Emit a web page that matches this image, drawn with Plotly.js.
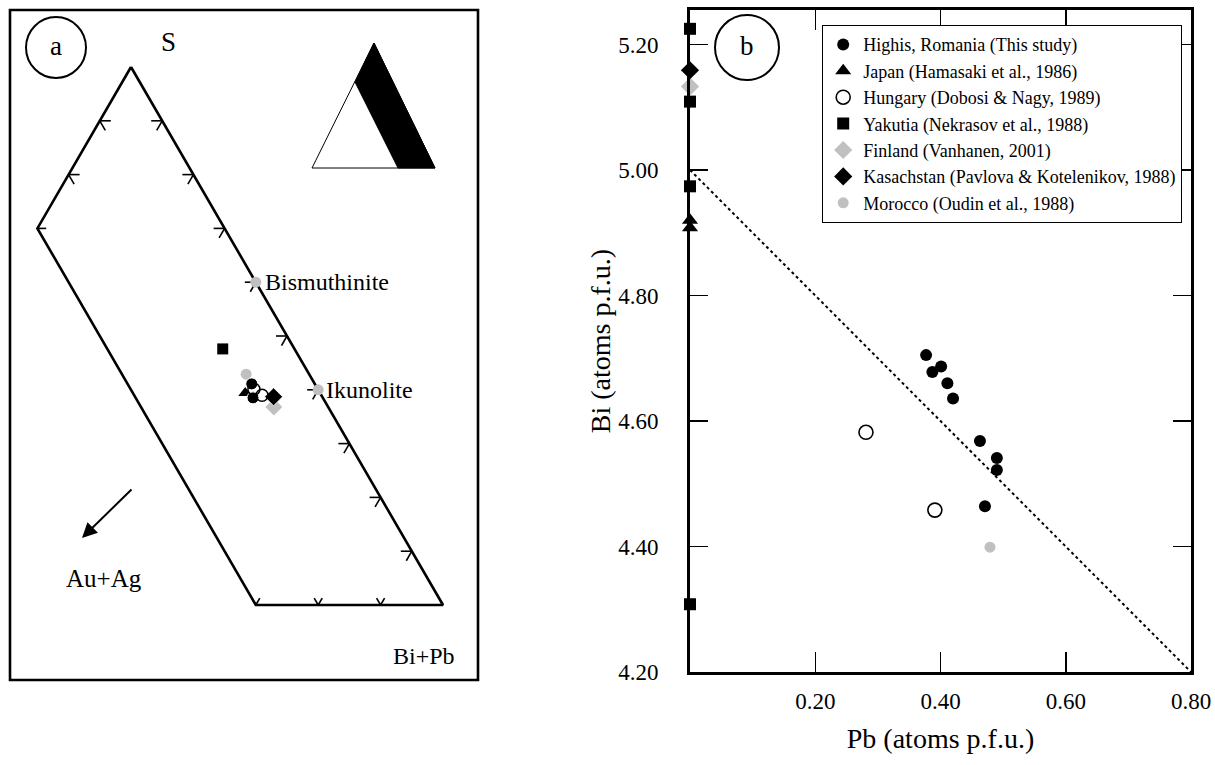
<!DOCTYPE html>
<html><head><meta charset="utf-8">
<script src="https://cdn.plot.ly/plotly-3.0.1.min.js"></script>
<style>html,body{margin:0;padding:0;background:#fff}</style>
</head><body><div id="chart" style="width:1215px;height:765px"></div>
<script>
// ---------- Panel b data (Pb, Bi atoms p.f.u.) ----------
const legendNames = ["Highis, Romania (This study)","Japan (Hamasaki et al., 1986)","Hungary (Dobosi & Nagy, 1989)","Yakutia (Nekrasov et al., 1988)","Finland (Vanhanen, 2001)","Kasachstan (Pavlova & Kotelenikov, 1988)","Morocco (Oudin et al., 1988)"];
const highisPb = [0.377,0.387,0.401,0.411,0.420,0.463,0.490,0.490,0.471];
const highisBi = [4.705,4.678,4.687,4.660,4.636,4.568,4.541,4.522,4.464];
const japanPb = [0,0];
const japanBi = [4.920,4.908];
const hungaryPb = [0.281,0.391];
const hungaryBi = [4.582,4.458];
const yakutiaPb = [0,0,0,0];
const yakutiaBi = [5.225,5.109,4.974,4.308];
const finlandPb = [0];
const finlandBi = [5.133];
const kasachPb = [0];
const kasachBi = [5.159];
const moroccoPb = [0.479];
const moroccoBi = [4.399];
const refLinePb = [0,0.8];
const refLineBi = [5.0,4.2];
const xTicks = [0.2,0.4,0.6,0.8];
const yTicks = [4.2,4.4,4.6,4.8,5.0,5.2];

// ---------- Panel a data (ternary fractions: S, Au+Ag; Bi+Pb = rest) ----------
const outlineS = [1,0.7,0,0,1];
const outlineA = [0,0.3,0.3,0,0];
const rightTickS = [0.9,0.8,0.7,0.6,0.5,0.4,0.3,0.2,0.1];
const leftTickS = [0.9,0.8];
const bottomTickA = [0.1,0.2,0.3];
const mineralNames = ["Bismuthinite","Ikunolite"];
const mineralS = [0.6,0.4];
const mineralA = [0,0];
const aHighisS = [0.411,0.385];   const aHighisA = [0.101,0.112];
const aJapanS = [0.394];          const aJapanA = [0.120];
const aHungaryS = [0.401,0.390];  const aHungaryA = [0.1025,0.095];
const aYakutiaS = [0.476];        const aYakutiaA = [0.115];
const aFinlandS = [0.368];        const aFinlandA = [0.087];
const aKasachS = [0.387];         const aKasachA = [0.078];
const aMoroccoS = [0.429];        const aMoroccoA = [0.101];

// ternary -> panel-a cartesian (vertex positions in panel units)
const PS=[131,67], PB=[443,605], PA=[-181,605];
function tern(s,a){const b=1-s-a;return [s*PS[0]+b*PB[0]+a*PA[0], s*PS[1]+b*PB[1]+a*PA[1]];}
function tx(S,A){return S.map((s,i)=>tern(s,A[i])[0]);}
function ty(S,A){return S.map((s,i)=>tern(s,A[i])[1]);}

const FONT = '"Liberation Serif", "Times New Roman", serif';
const GRAY = "#c0c0c0";
const traces = [];

// panel a
traces.push({x:tx(outlineS,outlineA),y:ty(outlineS,outlineA),xaxis:"x2",yaxis:"y2",mode:"lines",
  line:{color:"#000",width:2.6},showlegend:false,hoverinfo:"skip"});
const tkx=[],tky=[];const L=11;
function seg(p,dx,dy){tkx.push(p[0],p[0]+dx,null);tky.push(p[1],p[1]+dy,null);}
rightTickS.forEach(s=>{const p=tern(s,0);seg(p,-L,0);seg(p,-0.5*L,0.866*L);});
leftTickS.forEach(s=>{const p=tern(s,1-s);seg(p,L,0);seg(p,0.5*L,0.866*L);});
{const p=tern(0.7,0.3);seg(p,L*0.8,0);}
bottomTickA.forEach(a=>{const p=tern(0,a);seg(p,-0.5*8,-0.866*8);seg(p,0.5*8,-0.866*8);});
traces.push({x:tkx,y:tky,xaxis:"x2",yaxis:"y2",mode:"lines",line:{color:"#000",width:1.6},showlegend:false,hoverinfo:"skip"});
traces.push({x:tx(mineralS,mineralA),y:ty(mineralS,mineralA),xaxis:"x2",yaxis:"y2",mode:"markers",
  marker:{color:GRAY,size:11},showlegend:false,cliponaxis:false});
function aTrace(S,A,marker){traces.push({x:tx(S,A),y:ty(S,A),xaxis:"x2",yaxis:"y2",mode:"markers",marker:marker,showlegend:false,cliponaxis:false});}
aTrace(aFinlandS,aFinlandA,{symbol:"diamond",color:GRAY,size:13});
aTrace(aMoroccoS,aMoroccoA,{symbol:"circle",color:GRAY,size:11});
aTrace(aYakutiaS,aYakutiaA,{symbol:"square",color:"#000",size:11});
aTrace(aJapanS,aJapanA,{symbol:"triangle-up",color:"#000",size:12});
aTrace(aKasachS,aKasachA,{symbol:"diamond",color:"#000",size:14,line:{color:"#fff",width:1}});
aTrace(aHighisS,aHighisA,{symbol:"circle",color:"#000",size:12,line:{color:"#fff",width:1}});
aTrace(aHungaryS,aHungaryA,{symbol:"circle-open",color:"#000",size:12,line:{width:1.5}});

// panel b
traces.push({x:refLinePb,y:refLineBi,mode:"lines",line:{color:"#000",width:2,dash:"dot"},showlegend:false,hoverinfo:"skip"});
function bTrace(i,x,y,marker){traces.push({x:x,y:y,name:legendNames[i],mode:"markers",marker:marker,cliponaxis:false,legendgroup:"g"+i,legendrank:i+1});}
bTrace(0,highisPb,highisBi,{symbol:"circle",color:"#000",size:12});
bTrace(1,japanPb,japanBi,{symbol:"triangle-up",color:"#000",size:14});
bTrace(2,hungaryPb,hungaryBi,{symbol:"circle-open",color:"#000",size:14,line:{width:1.6}});
bTrace(3,yakutiaPb,yakutiaBi,{symbol:"square",color:"#000",size:12});
bTrace(4,finlandPb,finlandBi,{symbol:"diamond",color:GRAY,size:14});
bTrace(5,kasachPb,kasachBi,{symbol:"diamond",color:"#000",size:14});
bTrace(6,moroccoPb,moroccoBi,{symbol:"circle",color:GRAY,size:11});

const W=1215,H=765;
const layout = {
  width:W,height:H,margin:{l:0,r:0,t:0,b:0},paper_bgcolor:"#fff",plot_bgcolor:"rgba(0,0,0,0)",
  font:{family:FONT,color:"#000"},
  xaxis:{domain:[690/W,1191/W],range:[0,0.8],showgrid:false,zeroline:false,showline:true,mirror:"ticks",
    linewidth:3,linecolor:"#000",ticks:"inside",ticklen:20,tickwidth:1.5,tickcolor:"#000",
    tickvals:xTicks,tickformat:".2f",tickfont:{size:23,family:FONT},ticklabelstandoff:6,
    title:{text:"Pb (atoms p.f.u.)",font:{size:28,family:FONT},standoff:16},automargin:false},
  yaxis:{domain:[1-672/H,1-10/H],range:[4.2,5.255],showgrid:false,zeroline:false,showline:true,mirror:"ticks",
    linewidth:3,linecolor:"#000",ticks:"inside",ticklen:18,tickwidth:1.5,tickcolor:"#000",
    tickvals:yTicks,tickformat:".2f",tickfont:{size:23,family:FONT},ticklabelstandoff:24,
    title:{text:"Bi (atoms p.f.u.)",font:{size:28,family:FONT},standoff:0},automargin:false},
  xaxis2:{domain:[0,1],range:[0,W],visible:false,fixedrange:true},
  yaxis2:{domain:[0,1],range:[H,0],visible:false,fixedrange:true,anchor:"x2"},
  showlegend:true,
  legend:{x:822/W,y:1-25/H,xanchor:"left",yanchor:"top",bgcolor:"#fff",bordercolor:"#000",borderwidth:1.2,
    font:{size:18,family:FONT},tracegroupgap:0,itemsizing:"trace",itemwidth:30},
  shapes:[
    {type:"rect",xref:"x2",yref:"y2",x0:10,x1:478,y0:10,y1:680,line:{color:"#000",width:2.6}},
    {type:"circle",xref:"x2",yref:"y2",x0:26,x1:86,y0:17,y1:78,line:{color:"#000",width:2}},
    {type:"circle",xref:"x2",yref:"y2",x0:715,x1:779,y0:15,y1:80,line:{color:"#000",width:2},fillcolor:"#fff",layer:"above"},
    {type:"path",xref:"x2",yref:"y2",path:"M312,168 L374,43 L435,168 Z",line:{color:"#000",width:1},fillcolor:"#fff"},
    {type:"path",xref:"x2",yref:"y2",path:"M355,82 L374,43 L435,168 L398,168 Z",line:{color:"#000",width:1},fillcolor:"#000"}
  ],
  annotations:[
    {xref:"x2",yref:"y2",x:56,y:46,text:"a",showarrow:false,font:{size:27,family:FONT}},
    {xref:"x2",yref:"y2",x:747,y:46,text:"b",showarrow:false,font:{size:27,family:FONT}},
    {xref:"x2",yref:"y2",x:168,y:42,text:"S",showarrow:false,font:{size:27,family:FONT}},
    {xref:"x2",yref:"y2",x:tern(mineralS[0],0)[0]+7,y:tern(mineralS[0],0)[1],text:mineralNames[0],xanchor:"left",showarrow:false,font:{size:24,family:FONT}},
    {xref:"x2",yref:"y2",x:tern(mineralS[1],0)[0]+6,y:tern(mineralS[1],0)[1],text:mineralNames[1],xanchor:"left",showarrow:false,font:{size:24,family:FONT}},
    {xref:"x2",yref:"y2",x:104,y:578,text:"Au+Ag",showarrow:false,font:{size:25,family:FONT}},
    {xref:"x2",yref:"y2",x:424,y:656,text:"Bi+Pb",showarrow:false,font:{size:24,family:FONT}},
    {xref:"x2",yref:"y2",axref:"x2",ayref:"y2",x:82,y:538,ax:133,ay:488,text:"",showarrow:true,arrowhead:2,arrowsize:1.5,arrowwidth:2,arrowcolor:"#000"}
  ]
};
Plotly.newPlot("chart",traces,layout,{displayModeBar:false,staticPlot:true});
</script></body></html>
